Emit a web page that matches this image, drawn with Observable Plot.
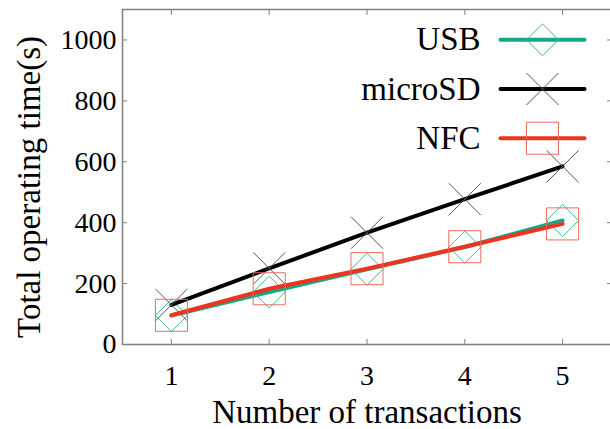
<!DOCTYPE html>
<html>
<head>
<meta charset="utf-8">
<script src="https://cdn.jsdelivr.net/npm/d3@7"></script>
<script src="https://cdn.jsdelivr.net/npm/@observablehq/plot@0.6"></script>
<style>
  html, body { margin: 0; padding: 0; background: #fff; }
  #chart { width: 610px; height: 429px; overflow: hidden; }
</style>
</head>
<body>
<div id="chart"></div>
<script>
// ---- data ----
const transactions = [1, 2, 3, 4, 5];
const usbTimes = [95, 172, 247, 320, 407];
const microSDTimes = [130, 250, 367, 477, 585];
const nfcTimes = [96, 183, 249, 321, 396];
const seriesNames = ["USB", "microSD", "NFC"];
const yTicks = [0, 200, 400, 600, 800, 1000];
const xTicks = [1, 2, 3, 4, 5];
const xLabel = "Number of transactions";
const yLabel = "Total operating time(s)";

// ---- styles ----
const lineColors = ["#12aa84", "#000000", "#ee3320"];
const markColors = ["#3dbb9a", "#555555", "#ef6a5a"];
const symbols = ["diamond2", "times", "square2"];
const radii = [14.4, 14.6, 20.4];
const seriesValues = [usbTimes, microSDTimes, nfcTimes];

const rows = [];
seriesNames.forEach((name, i) => {
  transactions.forEach((t, j) => rows.push({series: name, idx: i, x: t, y: seriesValues[i][j]}));
});

const font = "Liberation Serif, Times New Roman, serif";
const grey = "#808080";

const marks = [
  Plot.frame({stroke: grey, strokeWidth: 1.5}),
  // inward ticks on all four sides
  Plot.axisX(xTicks, {anchor: "bottom", tickSize: 5, dy: -5, text: null, label: null, stroke: grey, strokeWidth: 1}),
  Plot.axisX(xTicks, {anchor: "top", tickSize: 5, dy: 5, text: null, label: null, stroke: grey, strokeWidth: 1}),
  Plot.axisY(yTicks, {anchor: "left", tickSize: 5, dx: 5, text: null, label: null, stroke: grey, strokeWidth: 1}),
  Plot.axisY(yTicks, {anchor: "right", tickSize: 5, dx: -5, text: null, label: null, stroke: grey, strokeWidth: 1}),
  // tick labels
  Plot.axisX(xTicks, {anchor: "bottom", tickSize: 0, tickPadding: 21, label: null, tickFormat: d => String(d), fontSize: 28, fill: "#000"}),
  Plot.axisY(yTicks, {anchor: "left", tickSize: 0, tickPadding: 6, label: null, tickFormat: d => String(d), fontSize: 28, fill: "#000"}),
  // axis titles
  Plot.text([xLabel], {text: d => d, frameAnchor: "bottom", dy: 68, textAnchor: "middle", lineAnchor: "middle", fontSize: 33, fill: "#000"}),
  Plot.text([yLabel], {text: d => d, frameAnchor: "left", dx: -93, dy: 10, rotate: -90, textAnchor: "middle", lineAnchor: "middle", fontSize: 33, fill: "#000"})
];

const lineShape = {draw(context, l) { context.moveTo(0, 0); context.lineTo(0, -l); }};

seriesNames.forEach((name, i) => {
  const data = rows.filter(r => r.idx === i);
  marks.push(Plot.line(data, {x: "x", y: "y", stroke: lineColors[i], strokeWidth: 4}));
  marks.push(Plot.dot(data, {x: "x", y: "y", symbol: symbols[i], r: radii[i], stroke: markColors[i], strokeWidth: 1, fill: "none"}));
  // legend row
  const dy = 30.3 + 49.2 * i;
  marks.push(Plot.vector([name], {frameAnchor: "top-right", dx: -111, dy, length: 84, rotate: 90, anchor: "start", shape: lineShape, stroke: lineColors[i], strokeWidth: 4}));
  marks.push(Plot.dot([name], {frameAnchor: "top-right", dx: -69, dy, symbol: symbols[i], r: radii[i], stroke: markColors[i], strokeWidth: 1, fill: "none"}));
  marks.push(Plot.text([name], {text: d => d, frameAnchor: "top-right", dx: -131, dy, textAnchor: "end", lineAnchor: "middle", fontSize: 33, fill: "#000"}));
});

const chart = Plot.plot({
  width: 610,
  height: 429,
  marginLeft: 122,
  marginRight: -1,
  marginTop: 9,
  marginBottom: 85,
  style: {fontFamily: font, background: "#fff"},
  x: {domain: [0.5, 5.5]},
  y: {domain: [0, 1100]},
  marks
});
document.getElementById("chart").appendChild(chart);
</script>
</body>
</html>
